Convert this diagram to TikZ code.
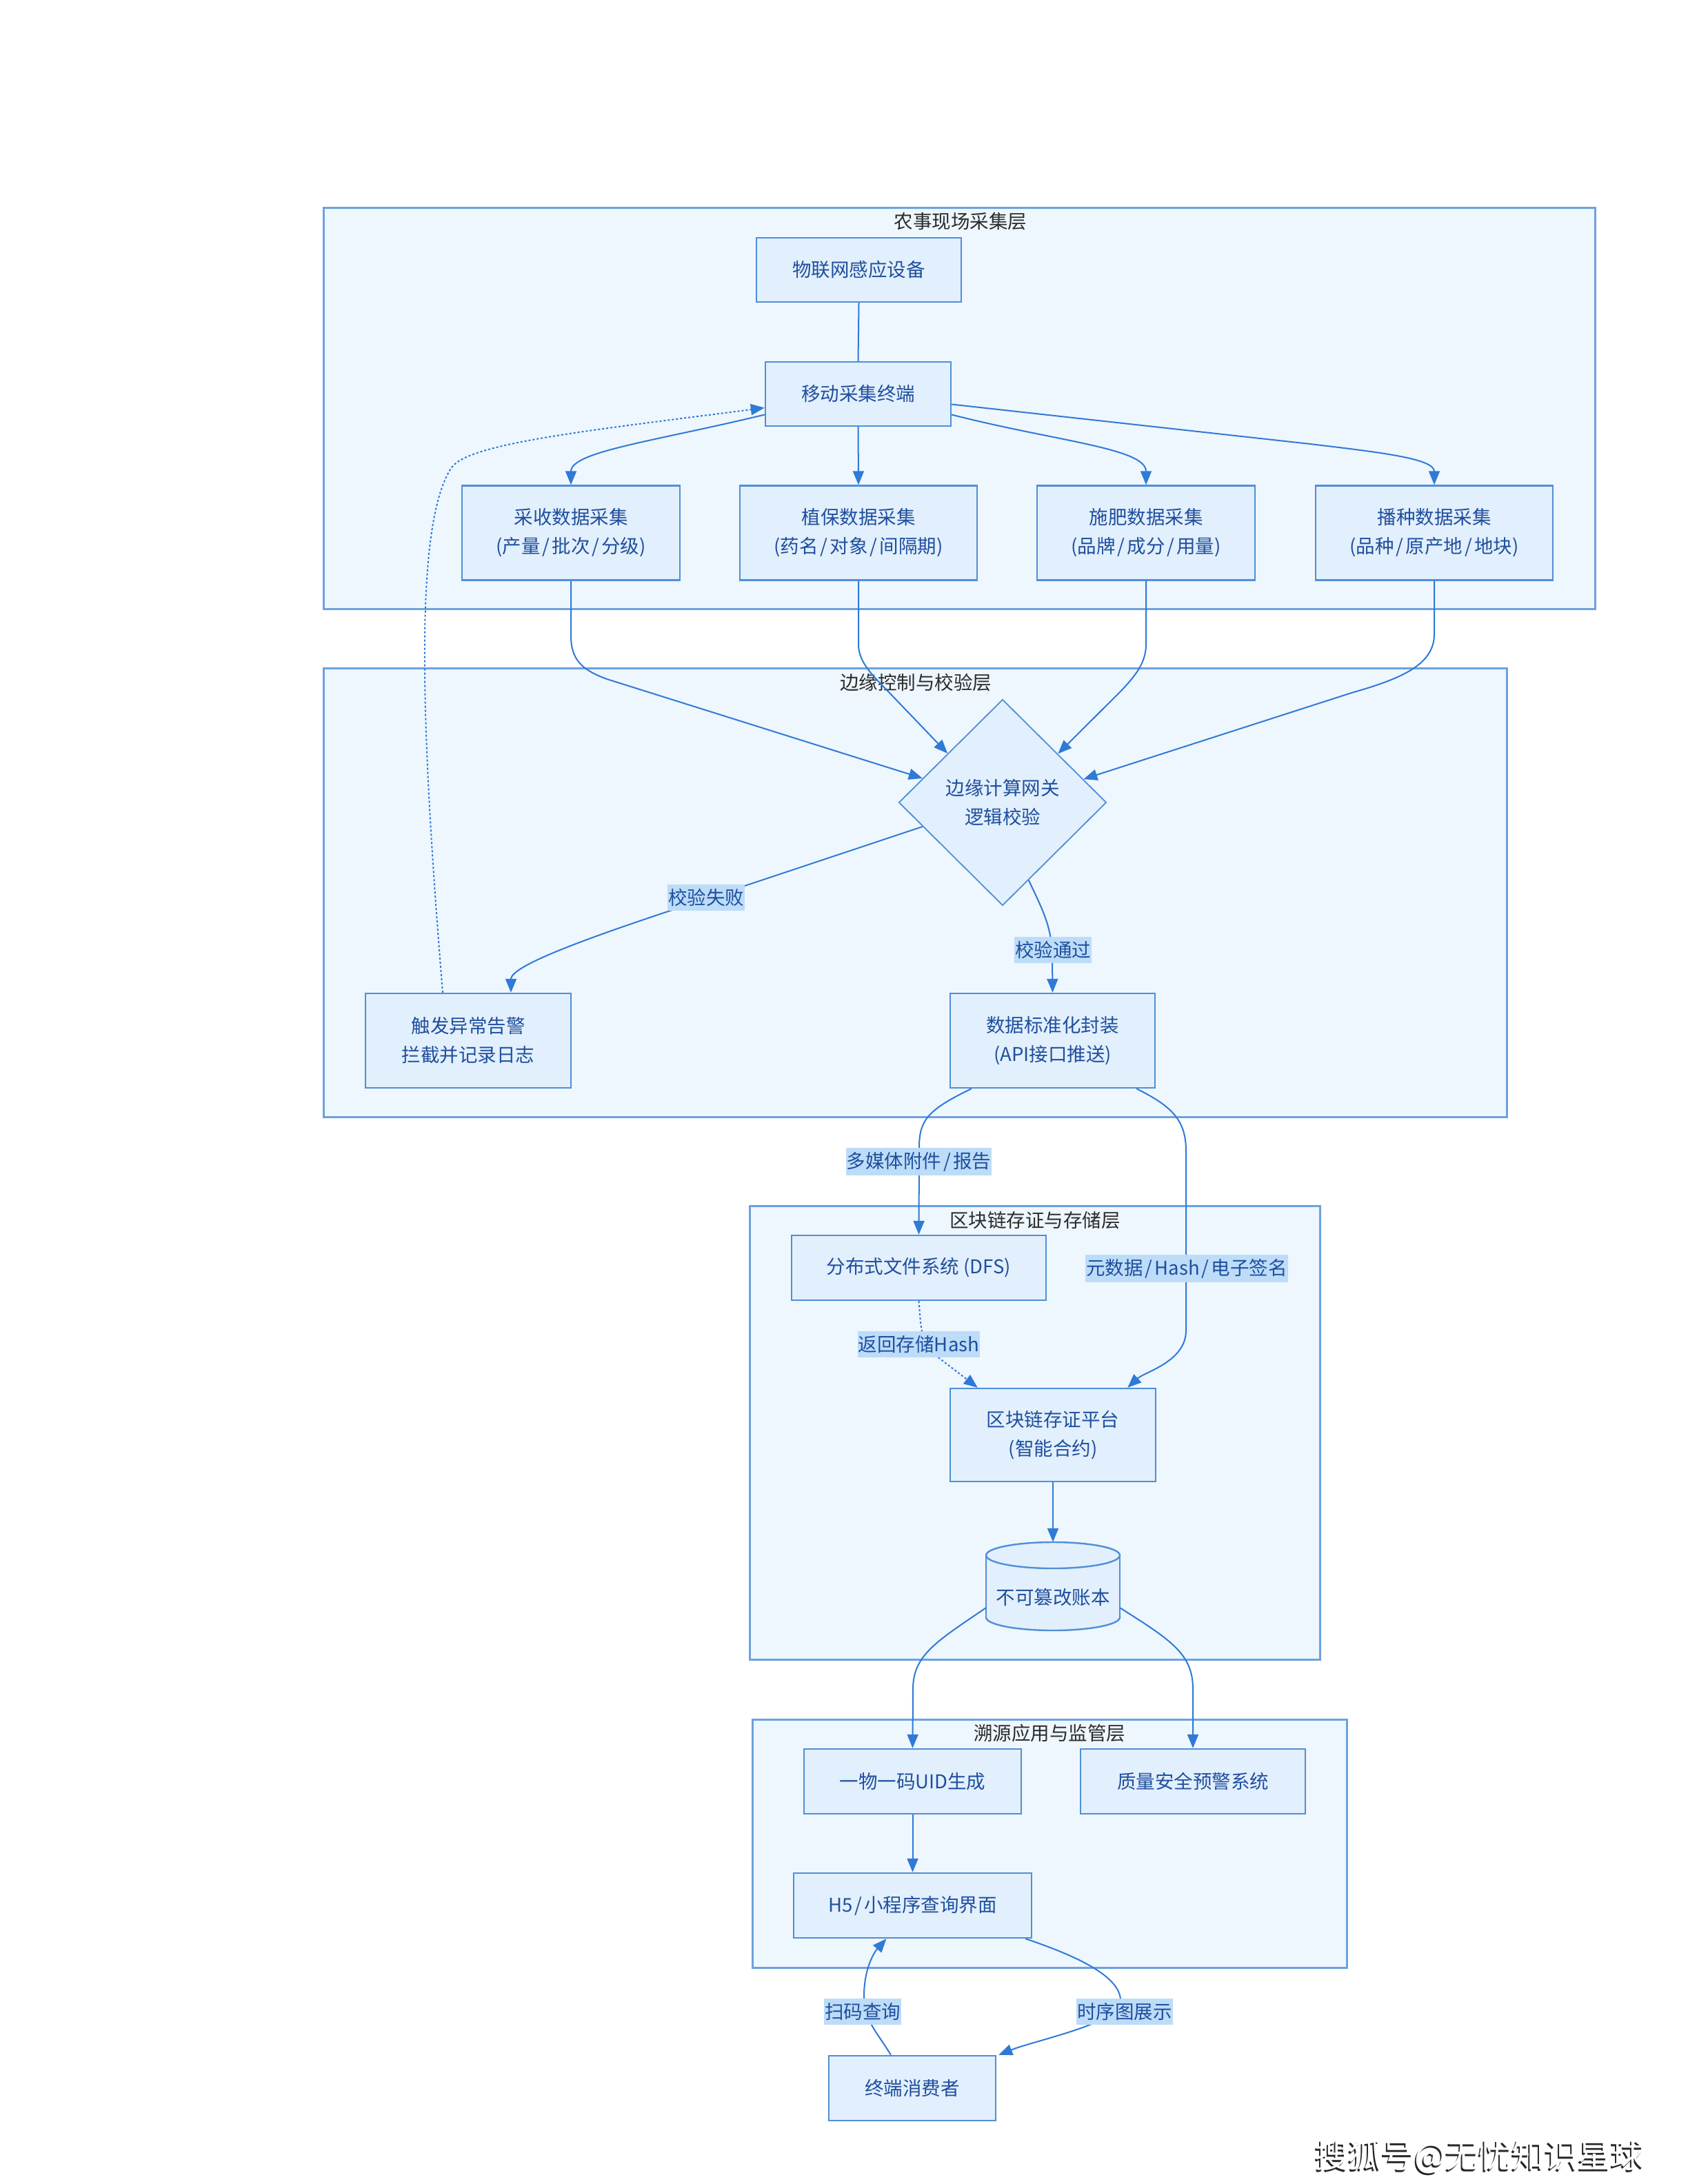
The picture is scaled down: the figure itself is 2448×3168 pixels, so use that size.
\documentclass[tikz,border=0pt]{standalone}
\usepackage{fontspec}
\setmainfont{Noto Sans CJK SC}
\usetikzlibrary{arrows.meta,calc,shapes.geometric}
\definecolor{layerfill}{HTML}{EEF6FE}
\definecolor{layerdraw}{HTML}{6CA2DE}
\definecolor{nodefill}{HTML}{E2EFFC}
\definecolor{nodedraw}{HTML}{4F8FD6}
\definecolor{nodetext}{HTML}{1F4F9E}
\definecolor{edgecol}{HTML}{2E7AD6}
\definecolor{lblfill}{HTML}{BDDCF8}
\definecolor{titletext}{HTML}{2B2B2B}
\newcommand{\slsep}{\hspace{3pt}/\hspace{3pt}}
\begin{document}
\begin{tikzpicture}[x=1pt,y=-1pt,
  layerbox/.style={draw=layerdraw,fill=layerfill,line width=3pt,inner sep=0pt},
  box/.style={draw=nodedraw,fill=nodefill,line width=2.4pt,text=nodetext,
    font=\fontsize{27.5}{42}\selectfont,align=center,inner sep=0pt},
  ttl/.style={text=titletext,font=\fontsize{27.5}{34}\selectfont,inner sep=0pt},
  edge/.style={draw=edgecol,line width=2pt,-{Triangle[length=20pt,width=16pt]}},
  plainedge/.style={draw=edgecol,line width=2pt},
  dotline/.style={dash pattern=on 3pt off 3pt},
  lbl/.style={fill=lblfill,text=nodetext,font=\fontsize{27.5}{34}\selectfont,
    inner xsep=1pt,inner ysep=6pt},
]
\fill[white] (0,0) rectangle (2448,3168);
\useasboundingbox (0,0) rectangle (2448,3168);

% ---------- layers ----------
\node[layerbox,minimum width=1844pt,minimum height=582pt] (L1) at (1391,592) {};
\node[layerbox,minimum width=1716pt,minimum height=651pt] (L2) at (1327,1294.5) {};
\node[layerbox,minimum width=827pt,minimum height=658pt] (L3) at (1500.5,2078) {};
\node[layerbox,minimum width=862pt,minimum height=360pt] (L4) at (1522,2674) {};
\node[ttl] (T1) at (1393,321) {农事现场采集层};
\node[ttl] (T2) at (1328,990) {边缘控制与校验层};
\node[ttl] (T3) at (1501,1770) {区块链存证与存储层};
\node[ttl] (T4) at (1522,2514) {溯源应用与监管层};

% ---------- nodes ----------
\node[box,minimum width=297pt,minimum height=93pt] (iot) at (1245.5,391.5) {物联网感应设备};
\node[box,minimum width=269pt,minimum height=93pt] (mob) at (1244.5,571.5) {移动采集终端};
\node[box,minimum width=316pt,minimum height=137pt] (cs) at (828,773) {采收数据采集\\(产量\slsep 批次\slsep 分级)};
\node[box,minimum width=344pt,minimum height=137pt] (zb) at (1245,773) {植保数据采集\\(药名\slsep 对象\slsep 间隔期)};
\node[box,minimum width=316pt,minimum height=137pt] (sf) at (1662,773) {施肥数据采集\\(品牌\slsep 成分\slsep 用量)};
\node[box,minimum width=344pt,minimum height=137pt] (bz) at (2080,773) {播种数据采集\\(品种\slsep 原产地\slsep 地块)};

\node[box,diamond,aspect=1,line width=1.8pt,minimum width=301pt,minimum height=299pt] (gw) at (1454,1164) {边缘计算网关\\逻辑校验};
\node[box,minimum width=298pt,minimum height=137pt] (alarm) at (679,1509.5) {触发异常告警\\拦截并记录日志};
\node[box,minimum width=297pt,minimum height=137pt] (std) at (1526.5,1509.5) {数据标准化封装\\(API接口推送)};

\node[box,minimum width=369pt,minimum height=94pt] (dfs) at (1332.5,1839) {分布式文件系统 (DFS)};
\node[box,minimum width=298pt,minimum height=135pt] (bc) at (1527,2081.5) {区块链存证平台\\(智能合约)};

% cylinder (ledger)
\fill[nodefill,draw=nodedraw,line width=2.4pt] (1527,2346) ellipse [x radius=97, y radius=19];
\fill[nodefill] (1430,2256) rectangle (1624,2346);
\draw[nodedraw,line width=2.4pt] (1430,2256) -- (1430,2346) (1624,2256) -- (1624,2346);
\fill[nodefill,draw=nodedraw,line width=2.4pt] (1527,2256) ellipse [x radius=97, y radius=19];
\node[minimum width=194pt,minimum height=128pt,inner sep=0pt] (ledger) at (1527,2301) {};
\node[text=nodetext,font=\fontsize{27.5}{34}\selectfont,inner sep=0pt] (ledgertxt) at (1527,2317) {不可篡改账本};

\node[box,minimum width=315pt,minimum height=94pt] (uid) at (1323.5,2584) {一物一码UID生成};
\node[box,minimum width=326pt,minimum height=94pt] (qa) at (1730,2584) {质量安全预警系统};
\node[box,minimum width=345pt,minimum height=94pt] (h5) at (1323.5,2764) {H5\slsep 小程序查询界面};
\node[box,minimum width=242pt,minimum height=94pt] (user) at (1323,3029) {终端消费者};

% ---------- edges ----------
\draw[plainedge] (iot.south) -- (mob.north);
\draw[edge] ($(mob.west)+(0,30)$) .. controls (950,640) and (828,655) .. (cs.north);
\draw[edge] (mob.south) -- (zb.north);
\draw[edge] ($(mob.east)+(0,30)$) .. controls (1530,640) and (1662,650) .. (sf.north);
\draw[edge] ($(mob.east)+(0,15)$) -- (1900,644) .. controls (2000,656) and (2080,665) .. (bz.north);
\draw[edge,dotline] ($(alarm.north)+(-37,0)$) .. controls (610,1050) and (600,760) .. (655,678)
   .. controls (680,643) and (850,625) .. ($(mob.west)+(0,20)$);

\draw[edge] (cs.south) -- (828,922) .. controls (828,958) and (845,972) .. (880,985)
   -- ($(gw.west)!0.233!(gw.north)$);
\draw[edge] (zb.south) -- (1245,935) .. controls (1245,962) and (1268,982) .. (1290,1005)
   -- ($(gw.west)!0.473!(gw.north)$);
\draw[edge] (sf.south) -- (1662,935) .. controls (1662,962) and (1645,982) .. (1625,1003)
   -- ($(gw.north)!0.53!(gw.east)$);
\draw[edge] (bz.south) -- (2080,920) .. controls (2080,965) and (2030,985) .. (1960,1005)
   -- ($(gw.north)!0.775!(gw.east)$);

\draw[edge] ($(gw.west)!0.233!(gw.south)$) -- (990,1315) .. controls (860,1358) and (741,1400)
   .. ($(alarm.north)+(62,0)$);
\draw[edge] ($(gw.south)!0.25!(gw.east)$) .. controls (1512,1320) and (1526,1345) .. (1526,1390)
   -- (std.north);

\draw[edge] ($(std.south west)+(32,0)$) .. controls (1345,1610) and (1333,1625) .. (1333,1665)
   -- (dfs.north);
\draw[edge] ($(std.south east)+(-28,0)$) .. controls (1700,1605) and (1720,1625) .. (1720,1670)
   -- (1720,1930) .. controls (1720,1975) and (1660,1990) .. ($(bc.north east)+(-42,0)$);
\draw[edge,dotline] (dfs.south) .. controls (1336,1930) and (1335,1950) .. (1362,1970)
   -- ($(bc.north west)+(41,0)$);
\draw[edge] (bc.south) -- (ledger.north);

\draw[edge] ($(ledger.south west)+(0,-33)$) .. controls (1360,2380) and (1324,2400) .. (1324,2450)
   -- (uid.north);
\draw[edge] ($(ledger.south east)+(0,-33)$) .. controls (1700,2380) and (1730,2400) .. (1730,2450)
   -- (qa.north);
\draw[edge] (uid.south) -- (h5.north);

\draw[edge] ($(user.north)+(-31,0)$) .. controls (1270,2945) and (1253,2930) .. (1253,2895)
   .. controls (1253,2860) and (1265,2835) .. ($(h5.south)+(-38,0)$);
\draw[edge] ($(h5.south east)+(-10,0)$) .. controls (1570,2840) and (1628,2870) .. (1625,2905)
   .. controls (1622,2935) and (1500,2960) .. ($(user.north east)+(3,0)$);

% ---------- edge labels ----------
\node[lbl] (l1) at (1024,1302) {校验失败};
\node[lbl] (l2) at (1527,1378) {校验通过};
\node[lbl] (l3) at (1332.5,1685) {多媒体附件\slsep 报告};
\node[lbl] (l4) at (1721,1840) {元数据\slsep Hash\slsep 电子签名};
\node[lbl] (l5) at (1332.5,1950) {返回存储Hash};
\node[lbl] (l6) at (1251,2918) {扫码查询};
\node[lbl] (l7) at (1631,2918) {时序图展示};

% ---------- corner mark ----------
\node[text=black!85,font=\fontsize{48}{56}\selectfont,inner sep=0pt] (wm0) at (2144,3131) {搜狐号@无忧知识星球};
\node[text=white,font=\fontsize{48}{56}\selectfont,inner sep=0pt] (wm) at (2146,3128) {搜狐号@无忧知识星球};
\end{tikzpicture}
\end{document}
